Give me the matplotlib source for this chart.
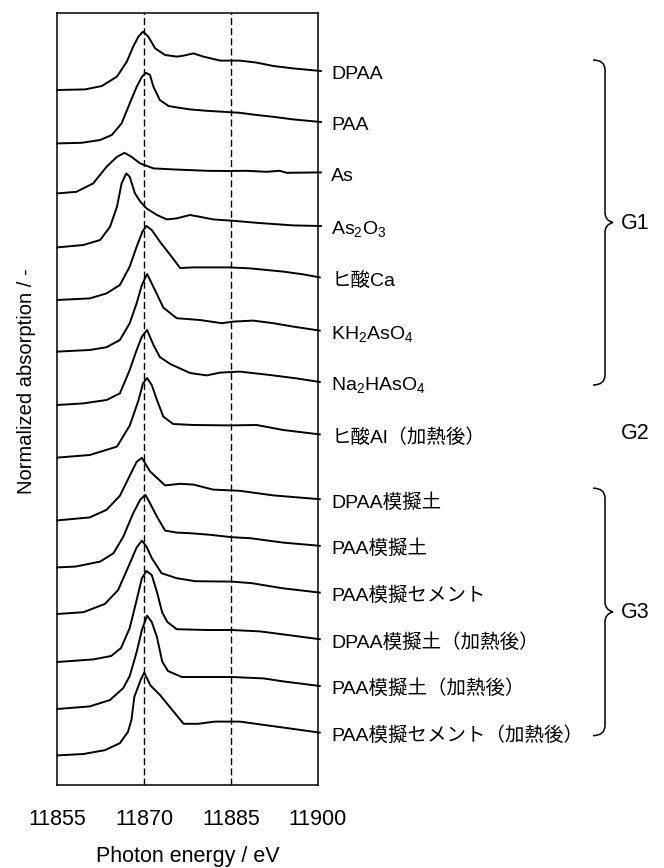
import matplotlib
matplotlib.use('Agg')
import matplotlib.pyplot as plt
import matplotlib.transforms as mtrans
from matplotlib.path import Path
from matplotlib.patches import PathPatch

plt.rcParams['font.family'] = ['Liberation Sans', 'Noto Sans CJK JP']
plt.rcParams['mathtext.fontset'] = 'custom'
plt.rcParams['mathtext.rm'] = 'Liberation Sans'
plt.rcParams['mathtext.default'] = 'rm'

# spectra: energy (eV) and absorption above the pre-edge (a.u.)
E_DPAA = [11855, 11859.8, 11862.7, 11865.3, 11867, 11868.1, 11869, 11869.8, 11870.7, 11871.9, 11873.6,
          11875.6, 11876.5, 11878.5, 11880.2, 11883.1, 11886.5, 11889.4, 11892.3, 11895.7, 11900.5]
A_DPAA = [0, 0.03, 0.2, 0.67, 1.42, 2.17, 2.67, 2.92, 2.67, 2.08, 1.75,
          1.67, 1.7, 1.83, 1.67, 1.47, 1.47, 1.37, 1.2, 1.08, 0.95]

E_PAA = [11855, 11859.2, 11862.4, 11864.4, 11866.1, 11867.5, 11868.7, 11869.6, 11870.3, 11871, 11871.6,
         11872.7, 11874.2, 11875.6, 11877.9, 11880.8, 11883.7, 11886.5, 11889.4, 11892.3, 11895.7, 11900.5]
A_PAA = [0, 0.03, 0.17, 0.42, 1.0, 2.0, 2.83, 3.33, 3.53, 3.42, 2.83,
         2.17, 1.87, 1.8, 1.7, 1.63, 1.58, 1.53, 1.42, 1.33, 1.2, 1.07]

E_AS = [11855, 11858.3, 11861.2, 11863.5, 11865.3, 11866.6, 11867.8, 11869.3, 11871.6, 11875,
        11880.8, 11884.2, 11887.7, 11891.1, 11893.4, 11894.6, 11900.5]
A_AS = [0, 0.08, 0.5, 1.33, 1.83, 2.03, 1.83, 1.5, 1.25, 1.2,
        1.13, 1.12, 1.13, 1.08, 1.13, 1.03, 1.05]

E_AS2O3 = [11855, 11859.5, 11862.4, 11864.1, 11865.3, 11866.1, 11866.9, 11867.5, 11868.4, 11869.3, 11870.4,
           11872.2, 11873.9, 11875.6, 11877.9, 11879.6, 11881.9, 11885.4, 11889.4, 11892.3, 11895.7, 11900.5]
A_AS2O3 = [0, 0.12, 0.37, 1.03, 2.03, 3.2, 3.7, 3.53, 2.7, 2.3, 1.95,
           1.62, 1.4, 1.45, 1.62, 1.53, 1.4, 1.33, 1.23, 1.17, 1.1, 1.07]

E_CA = [11855, 11860.6, 11863.5, 11865.8, 11867.5, 11868.7, 11869.7, 11870.4, 11871.3, 11872.7, 11874.5,
        11876.2, 11878.5, 11884.8, 11888.3, 11894, 11897.5, 11900.3]
A_CA = [0, 0.08, 0.33, 0.75, 1.67, 2.67, 3.42, 3.7, 3.5, 2.92, 2.25,
        1.6, 1.63, 1.63, 1.58, 1.42, 1.28, 1.13]

E_KH2 = [11855, 11860.6, 11863.5, 11865.8, 11867.5, 11868.7, 11869.6, 11870.5, 11871.9, 11873.3, 11875.6,
         11879.6, 11883.4, 11885.4, 11888.8, 11892.3, 11895.7, 11900.3]
A_KH2 = [0, 0.08, 0.22, 0.58, 1.42, 2.42, 3.33, 3.88, 3.05, 2.2, 1.67,
         1.58, 1.42, 1.5, 1.55, 1.42, 1.25, 1.05]

E_NA2 = [11855, 11859.5, 11863.5, 11865.8, 11867.5, 11868.7, 11869.6, 11870.5, 11871.6, 11872.7, 11874.5,
         11877.9, 11880.8, 11883.1, 11886.5, 11891.7, 11896.3, 11900.3]
A_NA2 = [0, 0.08, 0.25, 0.58, 1.75, 2.75, 3.42, 3.75, 3.0, 2.4, 2.05,
         1.6, 1.48, 1.62, 1.67, 1.5, 1.33, 1.15]

E_AL = [11855, 11860.6, 11865.3, 11867.5, 11869, 11869.8, 11870.5, 11871.3, 11872.2, 11873.3, 11875,
        11878.5, 11884.8, 11889.4, 11894, 11900.3]
A_AL = [0, 0.13, 0.55, 1.6, 2.85, 3.72, 3.98, 3.63, 2.88, 2.05, 1.68,
        1.63, 1.61, 1.63, 1.38, 1.16]

E_DPAA_S = [11855, 11860.6, 11863.5, 11865.8, 11867.5, 11868.7, 11869.6, 11871, 11873.6, 11876.2,
            11878.5, 11881.9, 11886.5, 11892.3, 11900.3]
A_DPAA_S = [0, 0.15, 0.53, 1.23, 2.23, 2.93, 3.13, 2.45, 1.75, 1.83,
            1.79, 1.54, 1.48, 1.25, 1.06]

E_PAA_S = [11855, 11858.1, 11862.4, 11864.7, 11866.4, 11868.1, 11869.3, 11870.2, 11871, 11872.2, 11873.6,
           11875.6, 11877.9, 11881.4, 11885.1, 11888.3, 11894, 11900.3]
A_PAA_S = [0, 0.04, 0.29, 0.71, 1.54, 2.71, 3.38, 3.63, 3.21, 2.54, 1.84,
           1.74, 1.71, 1.63, 1.51, 1.46, 1.24, 1.08]

E_PAA_C = [11855, 11859.5, 11863.2, 11865.5, 11867.4, 11868.7, 11869.6, 11870.4, 11871.3, 11873,
           11875.6, 11878.8, 11885.1, 11888.6, 11893.8, 11900.3]
A_PAA_C = [0, 0.09, 0.5, 1.2, 2.45, 3.33, 3.67, 3.37, 2.8, 2.04,
           1.79, 1.64, 1.62, 1.54, 1.29, 1.07]

E_DPAA_SH = [11855, 11861.2, 11864.3, 11866, 11867.5, 11868.7, 11869.6, 11870.4, 11871.3, 11872.2, 11873.1,
             11874, 11875.6, 11880.8, 11885.1, 11890, 11894, 11900.3]
A_DPAA_SH = [0, 0.13, 0.3, 0.7, 1.7, 3.1, 4.19, 4.55, 4.35, 3.5, 2.48,
             2.0, 1.64, 1.6, 1.6, 1.53, 1.38, 1.14]

E_PAA_SH = [11855, 11860.6, 11864.1, 11866.4, 11867.5, 11868.7, 11869.6, 11870.5, 11871.3, 11872.2, 11873.1,
            11874.1, 11876.5, 11885.1, 11890.6, 11894, 11900.3]
A_PAA_SH = [0, 0.13, 0.45, 1.05, 1.65, 2.85, 3.95, 4.67, 4.35, 3.6, 2.38,
            1.9, 1.6, 1.6, 1.53, 1.38, 1.15]

E_PAA_CH = [11855, 11859.5, 11863.2, 11865.8, 11867.2, 11867.8, 11868.3, 11869.4, 11870, 11871.1, 11872.7,
            11874.7, 11876.8, 11879.3, 11882.2, 11886.5, 11893.8, 11900.3]
A_PAA_CH = [0, 0.07, 0.26, 0.61, 1.18, 1.78, 2.93, 3.78, 4.14, 3.49, 3.03,
            2.32, 1.58, 1.58, 1.69, 1.69, 1.4, 1.14]

energies = [E_DPAA, E_PAA, E_AS, E_AS2O3, E_CA, E_KH2, E_NA2, E_AL,
            E_DPAA_S, E_PAA_S, E_PAA_C, E_DPAA_SH, E_PAA_SH, E_PAA_CH]
absorbs = [A_DPAA, A_PAA, A_AS, A_AS2O3, A_CA, A_KH2, A_NA2, A_AL,
           A_DPAA_S, A_PAA_S, A_PAA_C, A_DPAA_SH, A_PAA_SH, A_PAA_CH]
offsets = [34.75, 32.08, 29.58, 26.88, 24.25, 21.67, 19.0, 16.37,
           13.23, 10.88, 8.55, 6.15, 3.8, 1.48]
labels = ['DPAA', 'PAA', 'As', 'As$_2$O$_3$', 'ヒ酸Ca', 'KH$_2$AsO$_4$', 'Na$_2$HAsO$_4$',
          'ヒ酸Al（加熱後）', 'DPAA模擬土', 'PAA模擬土', 'PAA模擬セメント',
          'DPAA模擬土（加熱後）', 'PAA模擬土（加熱後）', 'PAA模擬セメント（加熱後）']
ref_lines = [11870, 11885]
xticks = [11855, 11870, 11885, 11900]
# group name, first and last spectrum index
groups = [('G1', 0, 6), ('G2', 7, 7), ('G3', 8, 13)]

W, H = 664, 868
fig = plt.figure(figsize=(W / 100, H / 100), dpi=100)
ax = fig.add_axes([57.3 / W, 83 / H, 260.7 / W, 772 / H])

ends = []
for e, a, off in zip(energies, absorbs, offsets):
    ax.plot(e, [v + off for v in a], color='k', lw=1.4, clip_on=False, solid_joinstyle='round')
    ends.append(a[-1] + off)

for xv in ref_lines:
    ax.axvline(xv, color='k', lw=1.0, ls=(0, (5, 2.3)))

ax.set_xlim(11855, 11900)
ax.set_ylim(0, 38.6)
ax.set_xticks(xticks)
ax.set_yticks([])
ax.tick_params(axis='x', length=0, pad=17, labelsize=15.5)
for s in ax.spines.values():
    s.set_linewidth(1.1)
ax.set_xlabel('Photon energy / eV', fontsize=15.5, labelpad=12)
ax.set_ylabel('Normalized absorption / -', fontsize=14.5)
ax.yaxis.set_label_coords(-0.08, 0.523)

trans = mtrans.blended_transform_factory(ax.transAxes, ax.transData)
for lab, yv in zip(labels, ends):
    ax.annotate(lab, xy=(1, yv), xycoords=trans, xytext=(9.5, -6), textcoords='offset points',
                va='baseline', ha='left', fontsize=14, annotation_clip=False)

# overlay in pixel coordinates for the braces
ov = fig.add_axes([0, 0, 1, 1])
ov.set_xlim(0, W)
ov.set_ylim(H, 0)
ov.axis('off')


def px_y(v):
    return H - ax.transData.transform((11900, v))[1]


def brace(x0, y0, y1, w=12, tip=8, r=10):
    xm = x0 + w
    ym = (y0 + y1) / 2
    verts = [(x0, y0), (xm, y0), (xm, y0 + r),
             (xm, ym - r), (xm, ym - 2), (xm + tip, ym),
             (xm, ym + 2), (xm, ym + r),
             (xm, y1 - r), (xm, y1), (x0, y1)]
    codes = [Path.MOVETO, Path.CURVE3, Path.CURVE3,
             Path.LINETO, Path.CURVE3, Path.CURVE3,
             Path.CURVE3, Path.CURVE3,
             Path.LINETO, Path.CURVE3, Path.CURVE3]
    ov.add_patch(PathPatch(Path(verts, codes), fill=False, lw=1.1, ec='k'))
    return ym


for name, i0, i1 in groups:
    if i0 == i1:
        ov.text(621, px_y(ends[i0]) - 1, name, fontsize=15.5, va='center', ha='left')
        continue
    top = px_y(ends[i0]) - 11
    bot = px_y(ends[i1]) + 3
    ym = brace(593, top, bot)
    ov.text(621, ym + 1, name, fontsize=15.5, va='center', ha='left')

fig.savefig('out.png', dpi=100, facecolor='white')
